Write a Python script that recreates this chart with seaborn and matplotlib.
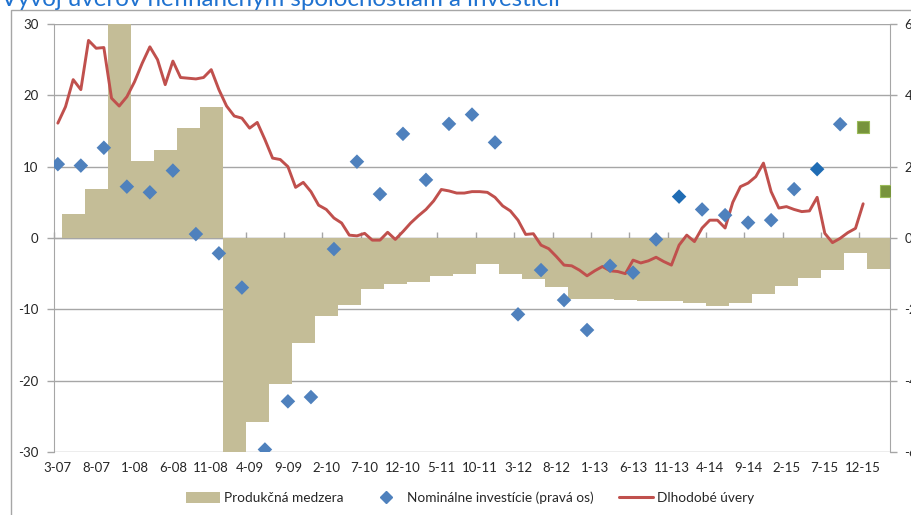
import matplotlib
matplotlib.use("Agg")
import matplotlib.pyplot as plt
import seaborn as sns
import pandas as pd
from matplotlib.patches import Patch, Rectangle
from matplotlib.lines import Line2D

# ---------------------------------------------------------------- data
# Monthly category axis: 3-07 .. 3-16 (109 months)
N_MONTHS = 109
tick_labels = ["3-07", "8-07", "1-08", "6-08", "11-08", "4-09", "9-09", "2-10",
               "7-10", "12-10", "5-11", "10-11", "3-12", "8-12", "1-13", "6-13",
               "11-13", "4-14", "9-14", "2-15", "7-15", "12-15"]

# Produkčná medzera, quarterly Q2 2007 .. Q1 2016 (left axis)
output_gap = [3.4, 6.9, 32.0, 10.8, 12.3, 15.4, 18.3, -31.0, -25.8, -20.4,
              -14.7, -11.0, -9.4, -7.2, -6.5, -6.2, -5.3, -5.1, -3.6, -5.0,
              -5.7, -6.8, -8.6, -8.6, -8.7, -8.8, -8.9, -9.1, -9.5, -9.1,
              -7.9, -6.7, -5.6, -4.5, -2.1, -4.4]

# Nominálne investície, end-of-quarter months 3-07 .. 9-15 (right axis)
investment = [2.07, 2.03, 2.53, 1.44, 1.28, 1.89, 0.11, -0.43, -1.39, -5.93,
              -4.58, -4.46, -0.31, 2.14, 1.23, 2.92, 1.63, 3.20, 3.46, 2.68,
              -2.14, -0.90, -1.74, -2.58, -0.78, -0.97, -0.04, 1.16, 0.80,
              0.64, 0.43, 0.50, 1.37, 1.93, 3.19]
# quarters whose diamond is drawn in the darker shade
investment_dark = [27, 33]
# Estimates for 12-15 and 3-16 (right axis)
investment_estimate = [3.10, 1.33]

# Dlhodobé úvery, monthly 3-07 .. 12-15 (left axis)
loans = [16.1, 18.4, 22.2, 20.8, 27.7, 26.6, 26.7, 19.6, 18.5, 19.8,
         21.9, 24.5, 26.8, 25.0, 21.5, 24.8, 22.5, 22.4, 22.3, 22.5,
         23.6, 20.8, 18.5, 17.1, 16.8, 15.4, 16.2, 13.8, 11.2, 11.0,
         10.0, 7.1, 7.8, 6.5, 4.6, 4.0, 2.8, 2.1, 0.4, 0.3,
         0.65, -0.3, -0.3, 0.8, -0.2, 0.9, 2.1, 3.1, 4.0, 5.2,
         6.8, 6.6, 6.3, 6.3, 6.5, 6.5, 6.4, 5.7, 4.5, 3.8,
         2.5, 0.5, 0.6, -1.0, -1.5, -2.6, -3.8, -3.9, -4.5, -5.3,
         -4.6, -4.0, -4.6, -4.7, -5.0, -3.1, -3.5, -3.2, -2.7, -3.3,
         -3.8, -1.0, 0.4, -0.5, 1.4, 2.5, 2.5, 1.4, 5.0, 7.2,
         7.7, 8.6, 10.5, 6.5, 4.2, 4.4, 4.0, 3.7, 3.8, 5.7,
         0.65, -0.65, -0.05, 0.75, 1.35, 4.8]

title = "Vývoj úverov nefinančným spoločnostiam a investícií"
gap_label = "Produkčná medzera"
inv_label = "Nominálne investície (pravá os)"
loans_label = "Dlhodobé úvery"

# ---------------------------------------------------------------- frames
gap_df = pd.DataFrame({"month": [2 + 3 * q for q in range(len(output_gap))],
                       "value": output_gap})
inv_df = pd.DataFrame({"month": [3 * q for q in range(len(investment))],
                       "value": investment,
                       "shade": ["dark" if q in investment_dark else "base"
                                 for q in range(len(investment))]})
est_df = pd.DataFrame({"month": [3 * (len(investment) + k)
                                 for k in range(len(investment_estimate))],
                       "value": investment_estimate})
loans_df = pd.DataFrame({"month": range(len(loans)), "value": loans})

# ---------------------------------------------------------------- style
sns.set_style("white")
plt.rcParams["font.family"] = ["Lato", "DejaVu Sans"]
plt.rcParams["axes.unicode_minus"] = False

BAR = "#C4BD97"
DIAMOND = "#4F81BD"
DIAMOND_DARK = "#1F6CB4"
LINE = "#C0504D"
SQUARE = "#77933C"
GRID = "#A6A6A6"
TEXT = "#262626"

W, H = 912, 515
fig = plt.figure(figsize=(W / 100, H / 100), dpi=100)
fig.patch.set_facecolor("white")
ax = fig.add_axes([54 / W, 1 - 452 / H, (890 - 54) / W, (452 - 24) / H])
ax2 = ax.twinx()

# bars: each quarter spans three monthly categories
sns.barplot(data=gap_df, x="month", y="value", native_scale=True, width=1,
            color=BAR, saturation=1, errorbar=None, linewidth=0, ax=ax,
            zorder=2)
sns.lineplot(data=loans_df, x="month", y="value", color=LINE, linewidth=2.1,
             ax=ax, zorder=4)

sns.scatterplot(data=inv_df, x="month", y="value", hue="shade",
                palette={"base": DIAMOND, "dark": DIAMOND_DARK},
                marker="D", s=55, edgecolor="none", legend=False, ax=ax2,
                zorder=5)
sns.scatterplot(data=est_df, x="month", y="value", marker="s", s=70,
                color=SQUARE, edgecolor="#9BBB59", linewidth=0.8, ax=ax2,
                zorder=5)

# ---------------------------------------------------------------- axes
ax.set_xlim(-0.5, N_MONTHS - 0.5)
ax.set_ylim(-30, 30)
ax2.set_ylim(-6, 6)
ax.set_yticks([-30, -20, -10, 0, 10, 20, 30])
ax2.set_yticks([-6, -4, -2, 0, 2, 4, 6])
ax.set_xlabel("")
ax.set_ylabel("")
ax2.set_xlabel("")
ax2.set_ylabel("")

ax.yaxis.grid(True, color=GRID, linewidth=1)
ax.set_axisbelow(True)
ax.xaxis.grid(False)

label_pos = [5 * k for k in range(len(tick_labels))]
ax.set_xticks(label_pos)
ax.set_xticklabels(tick_labels, fontsize=9.5, color=TEXT)
ax.tick_params(axis="x", length=0, pad=7.5)
ax.tick_params(axis="y", direction="out", length=5, width=1, color=GRID,
               labelsize=9.5, labelcolor=TEXT, pad=6, left=True)
ax2.tick_params(axis="y", direction="out", length=5, width=1, color=GRID,
                labelsize=9.5, labelcolor=TEXT, pad=5.5, right=True)

for a in (ax, ax2):
    for side in ("top", "bottom"):
        a.spines[side].set_visible(False)
ax.spines["left"].set_color(GRID)
ax.spines["right"].set_visible(False)
ax2.spines["left"].set_visible(False)
ax2.spines["right"].set_color(GRID)

# category axis drawn through zero with boundary tick marks every 5 months
zero_axis = ax.secondary_xaxis(0.5)
zero_axis.set_xticks([5 * k - 0.5 for k in range(len(tick_labels))])
zero_axis.set_xticklabels([])
zero_axis.tick_params(direction="out", length=4, width=1, color=GRID)
zero_axis.spines["bottom"].set_color(GRID)

ax.set_zorder(ax2.get_zorder() - 1)
ax2.patch.set_visible(False)

# ---------------------------------------------------------------- decoration
fig.add_artist(Rectangle((11.5 / W, -0.05), 1.0, 1 - 9.5 / H + 0.05,
                         transform=fig.transFigure, fill=False,
                         edgecolor=GRID, linewidth=1))
fig.text(1 / W, 1 - 6 / H, title, color="#1F72D0", fontsize=17.4,
         ha="left", va="baseline")

handles = [Patch(facecolor=BAR, edgecolor="none"),
           Line2D([], [], marker="D", linestyle="none", color=DIAMOND,
                  markersize=6),
           Line2D([], [], color=LINE, linewidth=2.2)]
fig.legend(handles, [gap_label, inv_label, loans_label], loc="center",
           bbox_to_anchor=(470 / W, 1 - 498 / H), ncol=3, frameon=False,
           fontsize=9.8, handlelength=2.5, handleheight=0.8,
           columnspacing=1.9, handletextpad=0.25, labelcolor=TEXT)

fig.savefig("out.png", dpi=100)
